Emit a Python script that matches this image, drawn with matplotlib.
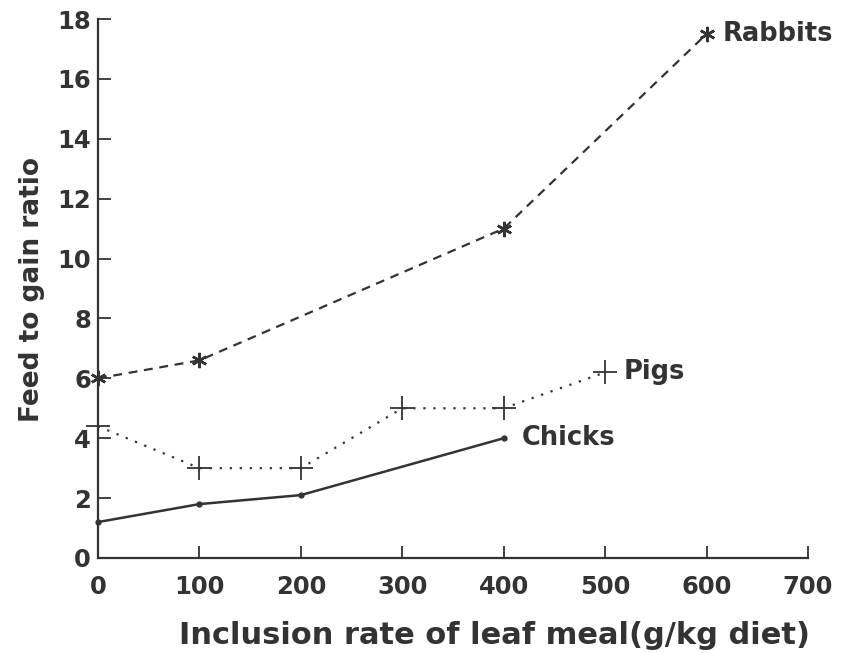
from matplotlib import pyplot as plt
import numpy as np

plt.rcParams['font.family'] = ['DejaVu Sans']
plt.rcParams['font.weight'] = 'bold'

ink = '#333333'

rabbit_x = [0, 100, 400, 600]
rabbit_y = [6.0, 6.6, 11.0, 17.5]
pig_x = [0, 100, 200, 300, 400, 500]
pig_y = [4.4, 3.0, 3.0, 5.0, 5.0, 6.2]
chick_x = [0, 100, 200, 400]
chick_y = [1.2, 1.8, 2.1, 4.0]

x_ticks = [0, 100, 200, 300, 400, 500, 600, 700]
y_ticks = [0, 2, 4, 6, 8, 10, 12, 14, 16, 18]

fig = plt.figure(figsize=(8.42, 6.53), dpi=100)
ax = fig.add_axes([0.1164, 0.1455, 0.8432, 0.8254])

ax.plot(rabbit_x, rabbit_y, color=ink, linestyle=(0, (4, 3)), linewidth=1.6,
        marker=(6, 2, 0), markersize=11, markeredgewidth=1.8, clip_on=False)
ax.plot(pig_x, pig_y, color=ink, linestyle=(0, (1, 3.5)), linewidth=1.6,
        marker='+', markersize=17, markeredgewidth=1.3, clip_on=False)
ax.plot(chick_x, chick_y, color=ink, linestyle='-', linewidth=1.8,
        marker='o', markersize=3.5, clip_on=False)

ax.text(rabbit_x[-1] + 16, rabbit_y[-1], 'Rabbits', fontsize=18.5, fontweight='bold',
        color=ink, va='center', ha='left')
ax.text(pig_x[-1] + 18, pig_y[-1], 'Pigs', fontsize=18.5, fontweight='bold',
        color=ink, va='center', ha='left')
ax.text(chick_x[-1] + 18, chick_y[-1], 'Chicks', fontsize=18.5, fontweight='bold',
        color=ink, va='center', ha='left')

ax.set_xlim(0, 700)
ax.set_ylim(0, 18)
ax.set_xticks(x_ticks)
ax.set_yticks(y_ticks)
ax.tick_params(direction='in', length=9, width=1.3, colors=ink, labelsize=17.5)
ax.tick_params(axis='x', pad=12)
ax.tick_params(axis='y', pad=5)
for lab in ax.get_xticklabels() + ax.get_yticklabels():
    lab.set_fontweight('bold')

for side in ['top', 'right']:
    ax.spines[side].set_visible(False)
for side in ['left', 'bottom']:
    ax.spines[side].set_color(ink)
    ax.spines[side].set_linewidth(1.6)

ax.set_xlabel('Inclusion rate of leaf meal(g/kg diet)', fontsize=22, fontweight='bold',
              color=ink)
ax.set_ylabel('Feed to gain ratio', fontsize=19, fontweight='bold', color=ink)
ax.xaxis.label.set_va('center')
ax.yaxis.label.set_va('center')
ax.xaxis.set_label_coords(0.558, -0.1447)
ax.yaxis.set_label_coords(-0.093, 0.499)

fig.savefig('out.png', dpi=100)
